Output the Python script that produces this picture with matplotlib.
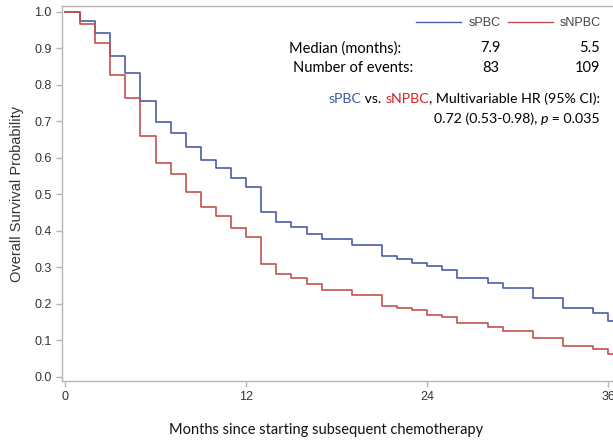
import numpy as np
import matplotlib.pyplot as plt

# months at which each step starts (Kaplan-Meier, step = post)
months = list(range(0, 37))

spbc = [1.000, 0.976, 0.943, 0.878, 0.832, 0.757, 0.697, 0.669, 0.630, 0.595,
        0.571, 0.544, 0.520, 0.452, 0.425, 0.412, 0.391, 0.377, 0.377, 0.362,
        0.362, 0.332, 0.322, 0.311, 0.304, 0.293, 0.270, 0.270, 0.257, 0.245,
        0.245, 0.216, 0.216, 0.188, 0.188, 0.174, 0.154]

snpbc = [1.000, 0.967, 0.916, 0.828, 0.764, 0.660, 0.587, 0.556, 0.507, 0.465,
         0.442, 0.409, 0.384, 0.309, 0.283, 0.272, 0.255, 0.237, 0.237, 0.224,
         0.224, 0.195, 0.190, 0.183, 0.170, 0.164, 0.147, 0.147, 0.138, 0.126,
         0.126, 0.108, 0.108, 0.086, 0.086, 0.076, 0.064]

groups = ["sPBC", "sNPBC"]
medians = ["7.9", "5.5"]
events = ["83", "109"]
x_ticks = [0, 12, 24, 36]
y_ticks = [round(0.1 * i, 1) for i in range(11)]

blue = "#4a5ea8"
red = "#c3514b"
txt_blue = "#3b5aa8"
txt_red = "#dd2222"
grey = "#b5b5b5"
body = ["Lato", "DejaVu Sans"]
arial = ["Liberation Sans", "DejaVu Sans"]

fig = plt.figure(figsize=(6.13, 4.43), dpi=100)
ax = fig.add_axes([62 / 613, 62 / 443, 554 / 613, 375 / 443])
xmax = 36.5
ax.set_xlim(-0.2, xmax)
ax.set_ylim(-0.011, 1.016)

ax.step(months + [xmax], spbc + [spbc[-1]], where="post", color=blue, lw=1.2, label=groups[0])
ax.step(months + [xmax], snpbc + [snpbc[-1]], where="post", color=red, lw=1.2, label=groups[1])

ax.set_xticks(x_ticks)
ax.set_yticks(y_ticks)
ax.set_yticklabels([f"{v:.1f}" for v in y_ticks])
for s in ax.spines.values():
    s.set_color(grey)
    s.set_linewidth(1.0)
ax.tick_params(colors=grey, labelcolor="#333333", length=4, width=1.0, labelsize=9)
for lab in ax.get_xticklabels() + ax.get_yticklabels():
    lab.set_family(arial)

ax.set_ylabel("Overall Survival Probability", family=arial, fontsize=10.5, color="#333333", labelpad=7)
fig.text(326 / 613, 1 - 430 / 443, "Months since starting subsequent chemotherapy",
         family=body, fontsize=10.5, color="#111111", ha="center", va="center")

leg = ax.legend(loc="upper right", bbox_to_anchor=(0.993, 1.0), ncol=2, frameon=False,
                handlelength=3.6, columnspacing=0.6, handletextpad=0.55,
                prop={"family": arial, "size": 9})
for t in leg.get_texts():
    t.set_color("#444444")
for h in leg.get_lines():
    h.set_linewidth(1.0)

# summary table
ax.text(14.85, 0.900, "Median (months):", family=body, fontsize=10.5, ha="left", va="center")
ax.text(15.1, 0.847, "Number of events:", family=body, fontsize=10.5, ha="left", va="center")
ax.text(28.15, 0.900, medians[0], family=body, fontsize=10.5, ha="center", va="center")
ax.text(35.43, 0.900, medians[1], family=body, fontsize=10.5, ha="right", va="center")
ax.text(28.2, 0.847, events[0], family=body, fontsize=10.5, ha="center", va="center")
ax.text(35.43, 0.847, events[1], family=body, fontsize=10.5, ha="right", va="center")

# hazard ratio lines, built right to left
hr_size = 10.2
pieces1 = [(", Multivariable HR (95% CI):", "black", "normal"),
           (groups[1], txt_red, "normal"),
           (" vs. ", "black", "normal"),
           (groups[0], txt_blue, "normal")]
prev = ax.text(35.43, 0.745, pieces1[0][0], family=body, fontsize=hr_size, ha="right",
               va="bottom", color=pieces1[0][1])
for s, c, st in pieces1[1:]:
    prev = ax.annotate(s, xy=(0, 0), xycoords=prev, ha="right", va="bottom",
                       family=body, fontsize=hr_size, color=c, style=st)

pieces2 = [(" = 0.035", "black", "normal"),
           ("p", "black", "italic"),
           ("0.72 (0.53-0.98), ", "black", "normal")]
prev = ax.text(35.43, 0.690, pieces2[0][0], family=body, fontsize=hr_size, ha="right",
               va="bottom", color=pieces2[0][1])
for s, c, st in pieces2[1:]:
    prev = ax.annotate(s, xy=(0, 0), xycoords=prev, ha="right", va="bottom",
                       family=body, fontsize=hr_size, color=c, style=st)

fig.savefig("out.png", dpi=100)
